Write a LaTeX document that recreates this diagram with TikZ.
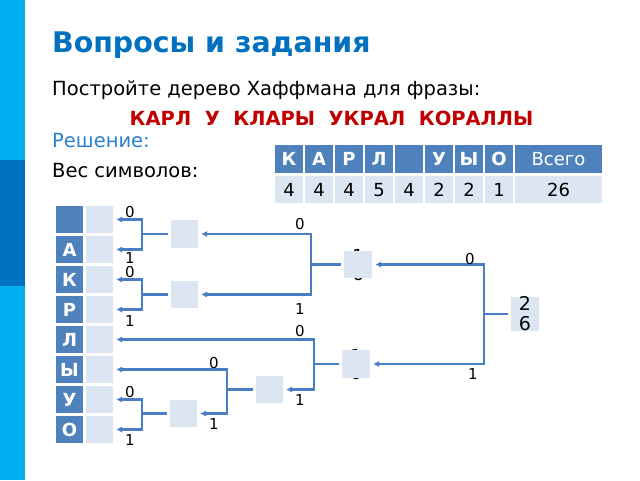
\documentclass[tikz,border=0pt]{standalone}
\usepackage{fontspec}
\setmainfont{DejaVu Sans}
\usetikzlibrary{arrows.meta}
\definecolor{hdr}{HTML}{4F81BD}
\definecolor{lite}{HTML}{DCE6F2}
\definecolor{ln}{HTML}{4A7EC4}
\definecolor{ttl}{HTML}{0070C0}
\definecolor{sol}{HTML}{2A7FCF}
\definecolor{phrase}{HTML}{C00000}
\definecolor{strip}{HTML}{00B0F0}
\definecolor{stripd}{HTML}{0070C0}
\tikzset{
  txt/.style={anchor=base west, inner sep=0pt, font=\fontsize{19.5}{23}\selectfont},
  cellh/.style={fill=hdr, minimum width=28pt, minimum height=28pt, inner sep=0pt, text=white, text height=13pt, text depth=0pt, font=\fontsize{18}{20}\selectfont\bfseries},
  cellv/.style={fill=lite, minimum width=28pt, minimum height=27pt, inner sep=0pt, text height=13pt, text depth=0pt, font=\fontsize{18}{20}\selectfont},
  lcell/.style={fill=hdr, minimum width=27pt, minimum height=27pt, inner sep=0pt, text=white, text height=13pt, text depth=0pt, font=\fontsize{18}{20}\selectfont\bfseries},
  rcell/.style={fill=lite, minimum width=27pt, minimum height=27pt, inner sep=0pt},
  wbox/.style={fill=lite, minimum width=28pt, minimum height=28pt, inner sep=0pt},
  hid/.style={inner sep=0pt, align=center, font=\fontsize{19}{20}\selectfont},
  bit/.style={inner sep=0pt, font=\fontsize{15}{17}\selectfont},
  stub/.style={draw=ln, line width=2.4pt, shorten <=3pt},
  fork/.style={draw=ln, line width=2.4pt, {Latex[length=6pt,width=6.5pt]}-{Latex[length=6pt,width=6.5pt]}, shorten >=3pt, shorten <=3pt}
}
\begin{document}
\begin{tikzpicture}[x=1pt,y=-1pt]
\useasboundingbox (0,0) rectangle (640,480);
\fill[white] (0,0) rectangle (640,480);
\fill[strip] (0,0) rectangle (25,480);
\fill[stripd] (0,160) rectangle (25,286);

% texts
\node[txt, font=\fontsize{28.4}{33}\selectfont\bfseries, text=ttl] (title) at (52,52) {Вопросы и задания};
\node[txt] (task) at (52,95) {Постройте дерево Хаффмана для фразы:};
\node[anchor=base, inner sep=0pt, font=\fontsize{19.5}{23}\selectfont\bfseries, text=phrase] (phr) at (331.5,125) {КАРЛ~~У~~КЛАРЫ~~УКРАЛ~~КОРАЛЛЫ};
\node[txt, text=sol] (sol) at (52,147) {Решение:};
\node[txt] (wt) at (52,177) {Вес символов:};

% table
\foreach \l/\v [count=\i] in {К/4,А/4,Р/4,Л/5,{}/4,У/2,Ы/2,О/1}{
  \node[cellh] (th\i) at ({289+30*(\i-1)},159) {\l};
  \node[cellv] (tv\i) at ({289+30*(\i-1)},189.5) {\v};
}
\node[cellh, minimum width=87pt, font=\fontsize{18}{20}\selectfont] (thall) at (558.5,159) {Всего};
\node[cellv, minimum width=87pt] (tvall) at (558.5,189.5) {26};

% left column
\foreach \l [count=\i] in {{},А,К,Р,Л,Ы,У,О}{
  \node[lcell] (l\i) at (69.5,{219.5+30*(\i-1)}) {\l};
  \node[rcell] (c\i) at (99.5,{219.5+30*(\i-1)}) {};
}

% hidden weights behind boxes
\node[hid, font=\fontsize{18}{17.5}\selectfont] at (358,265) {1\\6};
\node[hid, font=\fontsize{18}{17.5}\selectfont] at (356,364.5) {1\\0};

% weight boxes
\node[wbox, minimum width=27pt] (n8a) at (184.5,234) {};
\node[wbox, minimum width=27pt, minimum height=27pt] (n8b) at (184.5,294.5) {};
\node[wbox, minimum height=27pt] (n16) at (358,264.5) {};
\node[wbox] (n10) at (356,364) {};
\node[wbox, minimum width=27pt, minimum height=27pt] (n5) at (269.5,389.5) {};
\node[wbox, minimum width=27pt, minimum height=27pt] (n3) at (183.5,413.5) {};
\node[wbox, hid] (n26) at (525,314) {2\\6};

% connectors: stub from parent to fork point, then fork to both children
\draw[stub] (n26.west) -- ++(-27,0) coordinate (j26);
\draw[fork] (n16.east) -| (j26) |- (n10.east);
\draw[stub] (n16.west) -- ++(-33,0) coordinate (j16);
\draw[fork] (n8a.east) -| (j16) |- (n8b.east);
\draw[stub] (n8a.west) -- ++(-29,0) coordinate (ja);
\draw[fork] (c1.east) -| (ja) |- (c2.east);
\draw[stub] (n8b.west) -- ++(-29,0) coordinate (jb);
\draw[fork] (c3.east) -| (jb) |- (c4.east);
\draw[stub] (n10.west) -- ++(-28,0) coordinate (j10);
\draw[fork] (c5.east) -| (j10) |- (n5.east);
\draw[stub] (n5.west) -- ++(-29,0) coordinate (j5);
\draw[fork] (c6.east) -| (j5) |- (n3.east);
\draw[stub] (n3.west) -- ++(-28,0) coordinate (j3);
\draw[fork] (c7.east) -| (j3) |- (c8.east);

% bit labels
\node[bit] at (130,212) {0};
\node[bit] at (130,258) {1};
\node[bit] at (130,272) {0};
\node[bit] at (130,321) {1};
\node[bit] at (300,224) {0};
\node[bit] at (300,309) {1};
\node[bit] at (300,331) {0};
\node[bit] at (300,400) {1};
\node[bit] at (214,363) {0};
\node[bit] at (214,424) {1};
\node[bit] at (130,392) {0};
\node[bit] at (130,440) {1};
\node[bit] at (470,259) {0};
\node[bit] at (473,374) {1};
\end{tikzpicture}
\end{document}
